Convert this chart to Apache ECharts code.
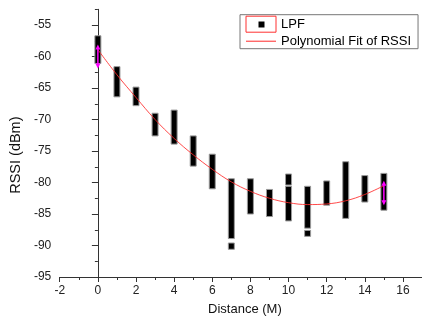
<!DOCTYPE html>
<html>
<head>
<meta charset="utf-8">
<script src="https://cdn.jsdelivr.net/npm/echarts@6/dist/echarts.min.js"></script>
<style>html,body{margin:0;padding:0;background:#fff;}#c{width:422px;height:321px;}</style>
</head>
<body>
<div id="c"></div>
<script>
// LPF range bars: distance, top (max RSSI), bottom (min RSSI)
const barX      = [0, 1, 2, 3, 4, 5, 6, 7, 7, 8, 9, 10, 10, 11, 11, 12, 13, 14, 15];
const barTop    = [-56.7, -61.6, -64.85, -69.0, -68.5, -72.6, -75.5, -79.4, -89.6, -79.4, -81.1, -78.65, -80.6, -80.6, -87.6, -79.75, -76.7, -78.9, -78.55];
const barBottom = [-61.1, -66.4, -67.8, -72.6, -73.9, -77.4, -81.0, -88.9, -90.6, -85.0, -85.4, -80.4, -86.1, -87.25, -88.55, -83.6, -85.7, -83.1, -84.4];

// magenta arrows
const arrowX  = [0, 15];
const arrowHi = [-58.1, -79.7];
const arrowLo = [-61.9, -83.6];

// polynomial fit of RSSI
const fitX = [0, 1, 2, 3, 4, 5, 6, 7, 8, 9, 10, 11, 12, 13, 14, 15];
const fitY = [-58.9, -62.9, -66.5, -70.0, -73.0, -75.6, -77.9, -79.9, -81.4, -82.5, -83.2, -83.5, -83.4, -82.9, -81.9, -80.5];

const xTicks = [-2, 0, 2, 4, 6, 8, 10, 12, 14, 16];
const yTicks = [-95, -90, -85, -80, -75, -70, -65, -60, -55];

const FONT = 'Arial, "Liberation Sans", sans-serif';
const chart = echarts.init(document.getElementById('c'), null, {renderer: 'canvas'});

const barData = barX.map((x, i) => [x, barTop[i], barBottom[i]]);
const arrowData = arrowX.map((x, i) => [x, arrowHi[i], arrowLo[i]]);
const fitData = fitX.map((x, i) => [x, fitY[i]]);

const axisCol = '#333';
chart.setOption({
  animation: false,
  backgroundColor: '#fff',
  grid: {left: 58.7, top: 9.3, bottom: 39.7, right: -8.2, containLabel: false},
  xAxis: [{
    type: 'value', min: -2, max: 17, interval: 2,
    name: 'Distance (M)', nameLocation: 'middle', nameGap: 26,
    nameTextStyle: {fontFamily: FONT, fontSize: 13, color: '#111', padding: [0, 0, 0, 8]},
    axisLine: {show: true, lineStyle: {color: axisCol, width: 1}},
    axisTick: {show: true, length: 5, lineStyle: {color: axisCol}, customValues: xTicks},
    axisLabel: {fontFamily: FONT, fontSize: 12, color: '#222', margin: 8, customValues: xTicks},
    splitLine: {show: false}
  }, {
    type: 'value', min: -2, max: 17, interval: 1, position: 'bottom',
    axisLine: {show: false}, axisLabel: {show: false},
    axisTick: {show: true, length: 3, lineStyle: {color: axisCol}},
    splitLine: {show: false}
  }],
  yAxis: [{
    type: 'value', min: -95, max: -52.5, interval: 5,
    name: 'RSSI (dBm)', nameLocation: 'middle', nameGap: 33, nameRotate: 90,
    nameTextStyle: {fontFamily: FONT, fontSize: 14.5, color: '#111', padding: [0, 24, 0, 0]},
    axisLine: {show: true, lineStyle: {color: axisCol, width: 1}},
    axisTick: {show: true, length: 6, lineStyle: {color: axisCol}, customValues: yTicks},
    axisLabel: {fontFamily: FONT, fontSize: 12, color: '#222', margin: 8.5, customValues: yTicks},
    splitLine: {show: false}
  }, {
    type: 'value', min: -95, max: -52.5, interval: 2.5, position: 'left',
    axisLine: {show: false}, axisLabel: {show: false},
    axisTick: {show: true, length: 3, lineStyle: {color: axisCol}},
    splitLine: {show: false}
  }],
  legend: {
    orient: 'vertical', left: 240, top: 14.7,
    padding: [1, 7, 1, 5.5], itemGap: 2, itemWidth: 30, itemHeight: 16,
    borderColor: '#777', borderWidth: 1, backgroundColor: '#fff', borderRadius: 0,
    textStyle: {fontFamily: FONT, fontSize: 13, color: '#000'},
    data: [
      {name: 'LPF', icon: 'rect', itemStyle: {color: 'rgba(0,0,0,0)', borderColor: '#ff3030', borderWidth: 1}},
      {name: 'Polynomial Fit of RSSI', icon: 'path://M0,0H30V1H0Z', itemStyle: {color: '#ff2a2a', borderWidth: 0}}
    ]
  },
  graphic: [{
    type: 'rect', left: 258.5, top: 21.5, z: 100,
    shape: {width: 6, height: 6}, style: {fill: '#000'}
  }],
  series: [{
    name: 'LPF', type: 'custom', xAxisIndex: 0, yAxisIndex: 0,
    itemStyle: {color: '#000'},
    data: barData,
    encode: {x: 0, y: [1, 2]},
    renderItem: function (params, api) {
      const p1 = api.coord([api.value(0), api.value(1)]);
      const p2 = api.coord([api.value(0), api.value(2)]);
      return {
        type: 'rect',
        shape: {x: p1[0] - 3, y: p1[1], width: 6, height: p2[1] - p1[1]},
        style: {fill: '#000', stroke: '#9a9a9a', lineWidth: 1}
      };
    },
    z: 2
  }, {
    name: 'Polynomial Fit of RSSI', type: 'line', xAxisIndex: 0, yAxisIndex: 0,
    data: fitData, smooth: 0.4, symbol: 'none', showSymbol: false,
    lineStyle: {color: '#ff2a2a', width: 1, opacity: 0.85},
    itemStyle: {color: '#ff2a2a'},
    z: 3
  }, {
    name: 'arrows', type: 'custom', xAxisIndex: 0, yAxisIndex: 0,
    data: arrowData, encode: {x: 0, y: [1, 2]},
    renderItem: function (params, api) {
      const t = api.coord([api.value(0), api.value(1)]);
      const b = api.coord([api.value(0), api.value(2)]);
      const c = '#ff00ff';
      return {
        type: 'group',
        children: [
          {type: 'line', shape: {x1: t[0], y1: t[1] + 3, x2: b[0], y2: b[1] - 3}, style: {stroke: c, lineWidth: 1.5}},
          {type: 'polygon', shape: {points: [[t[0], t[1]], [t[0] - 2.5, t[1] + 5], [t[0] + 2.5, t[1] + 5]]}, style: {fill: c}},
          {type: 'polygon', shape: {points: [[b[0], b[1]], [b[0] - 2.5, b[1] - 5], [b[0] + 2.5, b[1] - 5]]}, style: {fill: c}}
        ]
      };
    },
    z: 4
  }]
});
</script>
</body>
</html>
